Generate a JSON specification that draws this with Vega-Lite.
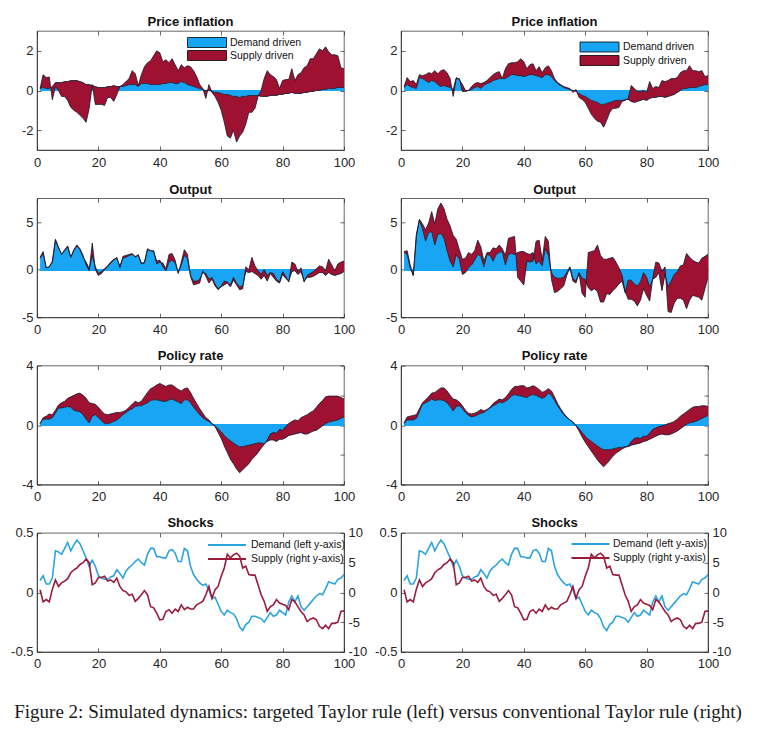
{
"$schema": "https://vega.github.io/schema/vega-lite/v6.json",
"padding": {"left": 10, "top": 15, "right": 5, "bottom": 5},
"background": "white",
"data": {"values": [
{"x":1,"piLd":0.1,"piLt":0.1,"piRd":0.15,"piRt":0.2,"yLd":1.2,"yLt":1.3,"yRd":1.8,"yRt":1.9,"iLd":0.1,"iLt":0.1,"iRd":0.1,"iRt":0.15,"sd":0.1,"ss":0.45},
{"x":2,"piLd":0.15,"piLt":0.8,"piRd":0.3,"piRt":0.65,"yLd":1.7,"yLt":1.9,"yRd":1.6,"yRt":2,"iLd":0.4,"iLt":0.5,"iRd":0.35,"iRt":0.55,"sd":0.14,"ss":-1.6},
{"x":3,"piLd":0.1,"piLt":0.65,"piRd":0.2,"piRt":0.45,"yLd":0.2,"yLt":0.2,"yRd":0.2,"yRt":0.5,"iLd":0.4,"iLt":0.6,"iRd":0.35,"iRt":0.6,"sd":0.07,"ss":-1.2},
{"x":4,"piLd":0.1,"piLt":0.68,"piRd":0.15,"piRt":0.5,"yLd":0.3,"yLt":0.3,"yRd":-0.6,"yRt":-0.6,"iLd":0.4,"iLt":0.75,"iRd":0.35,"iRt":0.65,"sd":0.07,"ss":-1.6},
{"x":5,"piLd":0.2,"piLt":-0.47,"piRd":0.1,"piRt":0.3,"yLd":0.8,"yLt":0.9,"yRd":3.5,"yRt":3.7,"iLd":0.5,"iLt":0.7,"iRd":0.45,"iRt":0.7,"sd":0.12,"ss":0.55},
{"x":6,"piLd":0.4,"piLt":0.2,"piRd":0.65,"piRt":0.8,"yLd":3.1,"yLt":3.2,"yRd":5.2,"yRt":5.3,"iLd":0.8,"iLt":1,"iRd":0.9,"iRt":1.1,"sd":0.35,"ss":2.1},
{"x":7,"piLd":0.4,"piLt":0,"piRd":0.6,"piRt":0.75,"yLd":2.3,"yLt":2.4,"yRd":4.3,"yRt":4.8,"iLd":1.15,"iLt":1.35,"iRd":1.4,"iRt":1.5,"sd":0.34,"ss":1},
{"x":8,"piLd":0.4,"piLt":-0.3,"piRd":0.5,"piRt":0.8,"yLd":1.6,"yLt":1.6,"yRd":3,"yRt":4.2,"iLd":1.15,"iLt":1.5,"iRd":1.5,"iRt":1.7,"sd":0.32,"ss":1.6},
{"x":9,"piLd":0.45,"piLt":-0.3,"piRd":0.4,"piRt":0.9,"yLd":2,"yLt":2.1,"yRd":3.9,"yRt":4.9,"iLd":1.2,"iLt":1.6,"iRd":1.6,"iRt":1.9,"sd":0.37,"ss":1.9},
{"x":10,"piLd":0.45,"piLt":-0.5,"piRd":0.5,"piRt":0.85,"yLd":2.4,"yLt":2.5,"yRd":4,"yRt":6.1,"iLd":1.25,"iLt":1.8,"iRd":1.75,"iRt":2.15,"sd":0.42,"ss":2.3},
{"x":11,"piLd":0.5,"piLt":-0.85,"piRd":0.45,"piRt":1,"yLd":1.3,"yLt":1.3,"yRd":2.6,"yRt":4.8,"iLd":1.2,"iLt":1.9,"iRd":1.65,"iRt":2.2,"sd":0.35,"ss":3.3},
{"x":12,"piLd":0.5,"piLt":-1,"piRd":0.3,"piRt":0.85,"yLd":2,"yLt":2.1,"yRd":3.7,"yRt":6.4,"iLd":1,"iLt":2,"iRd":1.7,"iRt":2.35,"sd":0.4,"ss":3.8},
{"x":13,"piLd":0.5,"piLt":-1.1,"piRd":0.2,"piRt":1,"yLd":2.5,"yLt":2.6,"yRd":3.8,"yRt":7,"iLd":0.95,"iLt":2.1,"iRd":1.7,"iRt":2.5,"sd":0.44,"ss":4.1},
{"x":14,"piLd":0.45,"piLt":-1.25,"piRd":0.25,"piRt":1.05,"yLd":2.1,"yLt":2.2,"yRd":3.3,"yRt":6.4,"iLd":0.9,"iLt":2.15,"iRd":1.65,"iRt":2.5,"sd":0.41,"ss":4.7},
{"x":15,"piLd":0.4,"piLt":-1.4,"piRd":0.2,"piRt":0.9,"yLd":1.3,"yLt":1.5,"yRd":2,"yRt":5.3,"iLd":0.7,"iLt":2,"iRd":1.5,"iRt":2.3,"sd":0.35,"ss":5},
{"x":16,"piLd":0.3,"piLt":-1.6,"piRd":0.15,"piRt":0.6,"yLd":0.8,"yLt":0.5,"yRd":0.9,"yRt":4.6,"iLd":0.4,"iLt":1.8,"iRd":1.25,"iRt":2,"sd":0.29,"ss":5.6},
{"x":17,"piLd":0.3,"piLt":-0.9,"piRd":0.05,"piRt":-0.3,"yLd":0.1,"yLt":-0.1,"yRd":0.3,"yRt":3.6,"iLd":0.15,"iLt":1.5,"iRd":0.95,"iRt":1.75,"sd":0.22,"ss":5},
{"x":18,"piLd":0.25,"piLt":0.3,"piRd":0.65,"piRt":0.6,"yLd":1.5,"yLt":2.8,"yRd":1.6,"yRt":3.2,"iLd":0.6,"iLt":1.45,"iRd":1.25,"iRt":1.7,"sd":0.27,"ss":1.3},
{"x":19,"piLd":0.2,"piLt":-0.7,"piRd":0.55,"piRt":0.6,"yLd":0.3,"yLt":0,"yRd":1.1,"yRt":2.1,"iLd":0.7,"iLt":1.4,"iRd":1.3,"iRt":1.55,"sd":0.22,"ss":1.6},
{"x":20,"piLd":0.15,"piLt":-0.7,"piRd":0.3,"piRt":-0.05,"yLd":-0.4,"yLt":-0.6,"yRd":-0.5,"yRt":1.1,"iLd":0.5,"iLt":1.2,"iRd":1.1,"iRt":1.3,"sd":0.14,"ss":2.5},
{"x":21,"piLd":0.15,"piLt":-0.7,"piRd":0,"piRt":-0.05,"yLd":-0.2,"yLt":-0.4,"yRd":-0.3,"yRt":1.2,"iLd":0.3,"iLt":0.95,"iRd":0.85,"iRt":1,"sd":0.12,"ss":2.5},
{"x":22,"piLd":0.15,"piLt":-0.75,"piRd":0,"piRt":0,"yLd":0.1,"yLt":0,"yRd":0.2,"yRt":1.8,"iLd":0.1,"iLt":0.75,"iRd":0.65,"iRt":0.8,"sd":0.11,"ss":2.7},
{"x":23,"piLd":0.2,"piLt":-0.35,"piRd":0.05,"piRt":0.2,"yLd":0.4,"yLt":0.3,"yRd":0.5,"yRt":1.6,"iLd":0.1,"iLt":0.7,"iRd":0.55,"iRt":0.75,"sd":0.11,"ss":1.9},
{"x":24,"piLd":0.2,"piLt":-0.35,"piRd":0.15,"piRt":0.35,"yLd":0.8,"yLt":0.7,"yRd":1,"yRt":2,"iLd":0.15,"iLt":0.75,"iRd":0.6,"iRt":0.8,"sd":0.13,"ss":2.1},
{"x":25,"piLd":0.25,"piLt":-0.55,"piRd":0.2,"piRt":0.4,"yLd":1.1,"yLt":1,"yRd":1.6,"yRt":3.1,"iLd":0.25,"iLt":0.8,"iRd":0.7,"iRt":0.9,"sd":0.14,"ss":1.7},
{"x":26,"piLd":0.2,"piLt":-0.2,"piRd":0.1,"piRt":0.35,"yLd":1.2,"yLt":1.3,"yRd":1.4,"yRt":2.4,"iLd":0.35,"iLt":0.85,"iRd":0.8,"iRt":1.05,"sd":0.19,"ss":2.4},
{"x":27,"piLd":0.2,"piLt":0.2,"piRd":0.25,"piRt":0.4,"yLd":0.4,"yLt":0.2,"yRd":0.3,"yRt":0.9,"iLd":0.5,"iLt":0.85,"iRd":0.85,"iRt":0.95,"sd":0.16,"ss":1},
{"x":28,"piLd":0.2,"piLt":0.3,"piRd":0.35,"piRt":0.5,"yLd":1.2,"yLt":1.4,"yRd":1.6,"yRt":1.8,"iLd":0.7,"iLt":0.9,"iRd":1,"iRt":1.05,"sd":0.12,"ss":0.3},
{"x":29,"piLd":0.25,"piLt":0.45,"piRd":0.4,"piRt":0.65,"yLd":1.3,"yLt":1.5,"yRd":1.5,"yRt":1.8,"iLd":0.85,"iLt":1,"iRd":1.15,"iRt":1.2,"sd":0.18,"ss":0.1},
{"x":30,"piLd":0.3,"piLt":0.6,"piRd":0.5,"piRt":0.8,"yLd":1.5,"yLt":1.6,"yRd":0.9,"yRt":2.3,"iLd":1,"iLt":1.2,"iRd":1.3,"iRt":1.45,"sd":0.21,"ss":-0.5},
{"x":31,"piLd":0.3,"piLt":1,"piRd":0.55,"piRt":0.9,"yLd":1.6,"yLt":1.7,"yRd":1.6,"yRt":2.2,"iLd":1.1,"iLt":1.4,"iRd":1.4,"iRt":1.6,"sd":0.23,"ss":-0.3},
{"x":32,"piLd":0.3,"piLt":0.85,"piRd":0.6,"piRt":0.95,"yLd":1.4,"yLt":1.3,"yRd":1.8,"yRt":2.6,"iLd":1.25,"iLt":1.6,"iRd":1.55,"iRt":1.75,"sd":0.26,"ss":-1.5},
{"x":33,"piLd":0.2,"piLt":0.25,"piRd":0.6,"piRt":0.6,"yLd":1.5,"yLt":1.6,"yRd":1.9,"yRt":2.2,"iLd":1.3,"iLt":1.5,"iRd":1.5,"iRt":1.7,"sd":0.28,"ss":-1},
{"x":34,"piLd":0.35,"piLt":0.8,"piRd":0.6,"piRt":1.1,"yLd":0.7,"yLt":0.6,"yRd":0.5,"yRt":1.5,"iLd":1.3,"iLt":1.6,"iRd":1.6,"iRt":1.85,"sd":0.25,"ss":-0.4},
{"x":35,"piLd":0.35,"piLt":1.2,"piRd":0.7,"piRt":1.35,"yLd":0.7,"yLt":0.8,"yRd":1.6,"yRt":3.3,"iLd":1.4,"iLt":1.9,"iRd":1.75,"iRt":2.1,"sd":0.23,"ss":0.3},
{"x":36,"piLd":0.35,"piLt":1.4,"piRd":0.8,"piRt":1.4,"yLd":2.1,"yLt":2.2,"yRd":1.7,"yRt":3.4,"iLd":1.5,"iLt":2.2,"iRd":1.95,"iRt":2.4,"sd":0.32,"ss":-0.4},
{"x":37,"piLd":0.3,"piLt":1.5,"piRd":0.8,"piRt":1.4,"yLd":2,"yLt":2,"yRd":1.6,"yRt":3.5,"iLd":1.65,"iLt":2.45,"iRd":2.05,"iRt":2.6,"sd":0.37,"ss":-2.4},
{"x":38,"piLd":0.3,"piLt":1.75,"piRd":0.75,"piRt":1.45,"yLd":1.9,"yLt":2,"yRd":1.8,"yRt":-0.8,"iLd":1.7,"iLt":2.55,"iRd":2,"iRt":2.6,"sd":0.37,"ss":-2.6},
{"x":39,"piLd":0.3,"piLt":2,"piRd":0.75,"piRt":1.6,"yLd":0.9,"yLt":0.6,"yRd":1.9,"yRt":-1.2,"iLd":1.7,"iLt":2.7,"iRd":1.95,"iRt":2.65,"sd":0.3,"ss":-3.5},
{"x":40,"piLd":0.3,"piLt":1.9,"piRd":0.7,"piRt":1.45,"yLd":1,"yLt":0.8,"yRd":1.9,"yRt":-1.6,"iLd":1.65,"iLt":2.8,"iRd":1.9,"iRt":2.65,"sd":0.3,"ss":-4.6},
{"x":41,"piLd":0.35,"piLt":1.45,"piRd":0.75,"piRt":1.1,"yLd":0.3,"yLt":0.7,"yRd":1.7,"yRt":0.9,"iLd":1.6,"iLt":2.7,"iRd":1.85,"iRt":2.5,"sd":0.29,"ss":-4.5},
{"x":42,"piLd":0.35,"piLt":1.55,"piRd":0.8,"piRt":1.3,"yLd":-0.1,"yLt":0.1,"yRd":1.6,"yRt":0.8,"iLd":1.6,"iLt":2.6,"iRd":2,"iRt":2.55,"sd":0.29,"ss":-3.2},
{"x":43,"piLd":0.4,"piLt":1.4,"piRd":0.8,"piRt":1.35,"yLd":0.8,"yLt":1.6,"yRd":1.8,"yRt":0.9,"iLd":1.7,"iLt":2.7,"iRd":2.05,"iRt":2.65,"sd":0.35,"ss":-2.9},
{"x":44,"piLd":0.4,"piLt":1.6,"piRd":0.75,"piRt":1,"yLd":1,"yLt":1.7,"yRd":0.6,"yRt":3,"iLd":1.75,"iLt":2.7,"iRd":2,"iRt":2.55,"sd":0.36,"ss":-3.5},
{"x":45,"piLd":0.35,"piLt":1.3,"piRd":0.7,"piRt":1.2,"yLd":0.7,"yLt":1,"yRd":0.9,"yRt":3.1,"iLd":1.65,"iLt":2.55,"iRd":1.9,"iRt":2.4,"sd":0.33,"ss":-2.8},
{"x":46,"piLd":0.35,"piLt":1,"piRd":0.65,"piRt":0.9,"yLd":-0.3,"yLt":-0.4,"yRd":0.4,"yRt":1,"iLd":1.55,"iLt":2.4,"iRd":1.8,"iRt":2.2,"sd":0.26,"ss":-3.2},
{"x":47,"piLd":0.45,"piLt":1.3,"piRd":0.8,"piRt":1.15,"yLd":0.5,"yLt":0.8,"yRd":2.2,"yRt":3.5,"iLd":1.45,"iLt":2.3,"iRd":1.9,"iRt":2.3,"sd":0.26,"ss":-2.1},
{"x":48,"piLd":0.4,"piLt":1.15,"piRd":0.8,"piRt":1.25,"yLd":1.5,"yLt":2.1,"yRd":1.5,"yRt":3,"iLd":1.7,"iLt":2.45,"iRd":2.15,"iRt":2.45,"sd":0.37,"ss":-2.9},
{"x":49,"piLd":0.3,"piLt":1.25,"piRd":0.7,"piRt":1,"yLd":1.2,"yLt":1.6,"yRd":-0.3,"yRt":-1,"iLd":1.7,"iLt":2.5,"iRd":2,"iRt":2.3,"sd":0.35,"ss":-2.5},
{"x":50,"piLd":0.25,"piLt":1.2,"piRd":0.5,"piRt":0.6,"yLd":-0.6,"yLt":-0.7,"yRd":-0.8,"yRt":-2.4,"iLd":1.5,"iLt":2.2,"iRd":1.65,"iRt":1.9,"sd":0.22,"ss":-2.8},
{"x":51,"piLd":0.2,"piLt":1,"piRd":0.35,"piRt":0.4,"yLd":-1.2,"yLt":-1.6,"yRd":-0.9,"yRt":-2.3,"iLd":1.2,"iLt":1.8,"iRd":1.3,"iRt":1.45,"sd":0.15,"ss":-2.8},
{"x":52,"piLd":0.15,"piLt":0.7,"piRd":0.25,"piRt":0.3,"yLd":-1.2,"yLt":-1.5,"yRd":-0.9,"yRt":-2,"iLd":0.95,"iLt":1.45,"iRd":1,"iRt":1.1,"sd":0.11,"ss":-2.1},
{"x":53,"piLd":0.1,"piLt":0.3,"piRd":0.15,"piRt":0.2,"yLd":-1,"yLt":-1.4,"yRd":-0.8,"yRt":-1.7,"iLd":0.7,"iLt":1.1,"iRd":0.7,"iRt":0.8,"sd":0.08,"ss":-1.8},
{"x":54,"piLd":0.05,"piLt":0.1,"piRd":0.1,"piRt":0.15,"yLd":-0.3,"yLt":-0.1,"yRd":-0.3,"yRt":-0.6,"iLd":0.5,"iLt":0.8,"iRd":0.5,"iRt":0.55,"sd":0.06,"ss":-1.5},
{"x":55,"piLd":0,"piLt":-0.4,"piRd":0.05,"piRt":0.1,"yLd":-0.4,"yLt":-0.7,"yRd":0.3,"yRt":0.2,"iLd":0.35,"iLt":0.5,"iRd":0.35,"iRt":0.35,"sd":0.07,"ss":-0.4},
{"x":56,"piLd":0,"piLt":0.3,"piRd":0,"piRt":-0.1,"yLd":-1,"yLt":-1.4,"yRd":-0.9,"yRt":-1.2,"iLd":0.25,"iLt":0.35,"iRd":0.2,"iRt":0.2,"sd":0.02,"ss":1},
{"x":57,"piLd":-0.05,"piLt":-0.1,"piRd":-0.05,"piRt":0.05,"yLd":-0.8,"yLt":-1,"yRd":-1.2,"yRt":-1.4,"iLd":0.1,"iLt":0.1,"iRd":0,"iRt":-0.05,"sd":-0.05,"ss":-1},
{"x":58,"piLd":-0.1,"piLt":-0.3,"piRd":-0.15,"piRt":-0.35,"yLd":-1.5,"yLt":-1.7,"yRd":-0.3,"yRt":-0.4,"iLd":-0.05,"iLt":-0.1,"iRd":-0.25,"iRt":-0.4,"sd":-0.04,"ss":0.45},
{"x":59,"piLd":-0.1,"piLt":-0.6,"piRd":-0.25,"piRt":-0.45,"yLd":-2,"yLt":-2.1,"yRd":-0.9,"yRt":-2.5,"iLd":-0.25,"iLt":-0.5,"iRd":-0.5,"iRt":-0.8,"sd":-0.1,"ss":1},
{"x":60,"piLd":-0.15,"piLt":-1,"piRd":-0.3,"piRt":-0.6,"yLd":-1.7,"yLt":-1.8,"yRd":-1,"yRt":-2.9,"iLd":-0.45,"iLt":-0.9,"iRd":-0.75,"iRt":-1.15,"sd":-0.16,"ss":2.7},
{"x":61,"piLd":-0.2,"piLt":-1.6,"piRd":-0.4,"piRt":-0.9,"yLd":-1.2,"yLt":-1.6,"yRd":-1.9,"yRt":1.8,"iLd":-0.7,"iLt":-1.4,"iRd":-0.95,"iRt":-1.45,"sd":-0.19,"ss":4.1},
{"x":62,"piLd":-0.2,"piLt":-2.3,"piRd":-0.5,"piRt":-1.2,"yLd":-1.3,"yLt":-1.4,"yRd":-2.2,"yRt":1.9,"iLd":-0.9,"iLt":-1.85,"iRd":-1.1,"iRt":-1.75,"sd":-0.15,"ss":6.4},
{"x":63,"piLd":-0.25,"piLt":-2.4,"piRd":-0.55,"piRt":-1.4,"yLd":-1.6,"yLt":-1.8,"yRd":-2,"yRt":2,"iLd":-1.05,"iLt":-2.3,"iRd":-1.25,"iRt":-2.05,"sd":-0.17,"ss":5.8},
{"x":64,"piLd":-0.3,"piLt":-2,"piRd":-0.6,"piRt":-1.55,"yLd":-0.8,"yLt":-1.1,"yRd":-2.3,"yRt":2.6,"iLd":-1.2,"iLt":-2.6,"iRd":-1.4,"iRt":-2.35,"sd":-0.18,"ss":6.3},
{"x":65,"piLd":-0.3,"piLt":-2.6,"piRd":-0.7,"piRt":-1.6,"yLd":-1.4,"yLt":-1.6,"yRd":-3.4,"yRt":1.5,"iLd":-1.35,"iLt":-2.95,"iRd":-1.55,"iRt":-2.6,"sd":-0.22,"ss":6.6},
{"x":66,"piLd":-0.35,"piLt":-2.3,"piRd":-0.7,"piRt":-1.85,"yLd":-1.8,"yLt":-2.1,"yRd":-3.4,"yRt":1.1,"iLd":-1.45,"iLt":-3.2,"iRd":-1.65,"iRt":-2.8,"sd":-0.29,"ss":6.1},
{"x":67,"piLd":-0.3,"piLt":-2.1,"piRd":-0.65,"piRt":-1.5,"yLd":-1.7,"yLt":-2,"yRd":-2.5,"yRt":1.1,"iLd":-1.45,"iLt":-3,"iRd":-1.65,"iRt":-2.6,"sd":-0.32,"ss":4.1},
{"x":68,"piLd":-0.3,"piLt":-1.7,"piRd":-0.6,"piRt":-1.1,"yLd":-0.2,"yLt":0.3,"yRd":-2.6,"yRt":1.2,"iLd":-1.4,"iLt":-2.8,"iRd":-1.65,"iRt":-2.35,"sd":-0.27,"ss":4.4},
{"x":69,"piLd":-0.25,"piLt":-1.1,"piRd":-0.55,"piRt":-0.9,"yLd":-0.3,"yLt":0,"yRd":-2.2,"yRt":1.3,"iLd":-1.35,"iLt":-2.6,"iRd":-1.6,"iRt":-2.1,"sd":-0.25,"ss":3},
{"x":70,"piLd":-0.25,"piLt":-1.1,"piRd":-0.5,"piRt":-0.9,"yLd":-0.2,"yLt":1.3,"yRd":-1.9,"yRt":0.8,"iLd":-1.3,"iLt":-2.3,"iRd":-1.55,"iRt":-1.9,"sd":-0.2,"ss":2.9},
{"x":71,"piLd":-0.25,"piLt":-0.9,"piRd":-0.5,"piRt":-0.85,"yLd":-0.4,"yLt":0.4,"yRd":-1.5,"yRt":0.2,"iLd":-1.25,"iLt":-2.1,"iRd":-1.5,"iRt":-1.75,"sd":-0.2,"ss":2.9},
{"x":72,"piLd":-0.25,"piLt":-0.3,"piRd":-0.5,"piRt":-0.55,"yLd":-0.6,"yLt":-0.1,"yRd":-1.2,"yRt":-0.6,"iLd":-1.2,"iLt":-1.85,"iRd":-1.5,"iRt":-1.6,"sd":-0.21,"ss":1.3},
{"x":73,"piLd":-0.3,"piLt":0,"piRd":-0.45,"piRt":-0.5,"yLd":-1,"yLt":-0.5,"yRd":-2.4,"yRt":-2.3,"iLd":-1.2,"iLt":-1.55,"iRd":-1.45,"iRt":-1.5,"sd":-0.22,"ss":-0.4},
{"x":74,"piLd":-0.3,"piLt":0.6,"piRd":-0.45,"piRt":-0.4,"yLd":-0.6,"yLt":0,"yRd":-1.1,"yRt":-3.1,"iLd":-1.25,"iLt":-1.3,"iRd":-1.45,"iRt":-1.4,"sd":-0.25,"ss":-1.5},
{"x":75,"piLd":-0.3,"piLt":1,"piRd":-0.55,"piRt":0.25,"yLd":-1.2,"yLt":-0.6,"yRd":-1.1,"yRt":-3.1,"iLd":-1.1,"iLt":-1,"iRd":-1.35,"iRt":-1.1,"sd":-0.21,"ss":-3.2},
{"x":76,"piLd":-0.25,"piLt":0.8,"piRd":-0.6,"piRt":0.1,"yLd":-0.4,"yLt":-0.3,"yRd":-1.5,"yRt":-3.3,"iLd":-1,"iLt":-0.6,"iRd":-1.3,"iRt":-0.9,"sd":-0.17,"ss":-2.4},
{"x":77,"piLd":-0.25,"piLt":0.7,"piRd":-0.55,"piRt":-0.05,"yLd":-0.8,"yLt":-0.4,"yRd":-1.7,"yRt":-3.8,"iLd":-1,"iLt":-0.5,"iRd":-1.25,"iRt":-0.85,"sd":-0.2,"ss":-2.1},
{"x":78,"piLd":-0.25,"piLt":0.55,"piRd":-0.5,"piRt":-0.05,"yLd":-1.2,"yLt":-1,"yRd":-1.3,"yRt":-3.2,"iLd":-1.1,"iLt":-0.55,"iRd":-1.2,"iRt":-0.9,"sd":-0.19,"ss":-1.2},
{"x":79,"piLd":-0.2,"piLt":0.1,"piRd":-0.45,"piRt":0,"yLd":-1.4,"yLt":-1.3,"yRd":-0.3,"yRt":-2,"iLd":-0.95,"iLt":-0.3,"iRd":-1.1,"iRt":-0.75,"sd":-0.15,"ss":-1.8},
{"x":80,"piLd":-0.2,"piLt":0.5,"piRd":-0.5,"piRt":-0.1,"yLd":-0.5,"yLt":-0.2,"yRd":-0.8,"yRt":-2.7,"iLd":-0.95,"iLt":-0.35,"iRd":-1.05,"iRt":-0.75,"sd":-0.17,"ss":-2},
{"x":81,"piLd":-0.15,"piLt":0.55,"piRd":-0.4,"piRt":0.45,"yLd":-0.9,"yLt":-0.7,"yRd":-1.8,"yRt":-3.3,"iLd":-0.85,"iLt":-0.1,"iRd":-0.95,"iRt":-0.55,"sd":-0.19,"ss":-2.2},
{"x":82,"piLd":-0.15,"piLt":0.55,"piRd":-0.35,"piRt":0.1,"yLd":-1.2,"yLt":-1.3,"yRd":-1,"yRt":-0.9,"iLd":-0.7,"iLt":0.1,"iRd":-0.85,"iRt":-0.3,"sd":-0.08,"ss":-2.9},
{"x":83,"piLd":-0.1,"piLt":1.1,"piRd":-0.35,"piRt":0.2,"yLd":-0.2,"yLt":0.8,"yRd":-0.8,"yRt":0.8,"iLd":-0.65,"iLt":0.25,"iRd":-0.75,"iRt":-0.2,"sd":-0.03,"ss":-1.2},
{"x":84,"piLd":-0.15,"piLt":0.5,"piRd":-0.3,"piRt":0.15,"yLd":-0.1,"yLt":0.6,"yRd":-0.3,"yRt":0.7,"iLd":-0.6,"iLt":0.35,"iRd":-0.65,"iRt":-0.1,"sd":-0.08,"ss":-1.6},
{"x":85,"piLd":-0.15,"piLt":0.8,"piRd":-0.3,"piRt":0.5,"yLd":-0.5,"yLt":-0.2,"yRd":-2.2,"yRt":-0.2,"iLd":-0.55,"iLt":0.3,"iRd":-0.6,"iRt":-0.05,"sd":-0.03,"ss":-2.4},
{"x":86,"piLd":-0.15,"piLt":0.9,"piRd":-0.35,"piRt":0.45,"yLd":-0.2,"yLt":0.2,"yRd":-0.5,"yRt":0.3,"iLd":-0.5,"iLt":0.5,"iRd":-0.65,"iRt":0,"sd":-0.12,"ss":-3.2},
{"x":87,"piLd":-0.1,"piLt":1.15,"piRd":-0.3,"piRt":0.5,"yLd":-1.2,"yLt":-1.3,"yRd":-1.8,"yRt":-4.4,"iLd":-0.6,"iLt":0.6,"iRd":-0.65,"iRt":0.1,"sd":-0.15,"ss":-3.8},
{"x":88,"piLd":-0.1,"piLt":1.25,"piRd":-0.25,"piRt":0.6,"yLd":-0.8,"yLt":-0.6,"yRd":-1.2,"yRt":-4.5,"iLd":-0.6,"iLt":0.7,"iRd":-0.6,"iRt":0.15,"sd":-0.12,"ss":-4.9},
{"x":89,"piLd":-0.05,"piLt":1.6,"piRd":-0.2,"piRt":0.6,"yLd":-0.8,"yLt":-0.4,"yRd":-0.5,"yRt":-3.5,"iLd":-0.5,"iLt":0.85,"iRd":-0.5,"iRt":0.25,"sd":-0.09,"ss":-4.5},
{"x":90,"piLd":-0.05,"piLt":1.6,"piRd":-0.1,"piRt":0.65,"yLd":-0.7,"yLt":-0.2,"yRd":-0.2,"yRt":-3,"iLd":-0.4,"iLt":0.95,"iRd":-0.4,"iRt":0.4,"sd":-0.06,"ss":-4.3},
{"x":91,"piLd":0,"piLt":1.85,"piRd":0,"piRt":0.9,"yLd":-0.5,"yLt":0.1,"yRd":0.4,"yRt":-3,"iLd":-0.35,"iLt":1.2,"iRd":-0.25,"iRt":0.6,"sd":-0.03,"ss":-4.6},
{"x":92,"piLd":0,"piLt":2.1,"piRd":0.1,"piRt":1,"yLd":-0.3,"yLt":0.4,"yRd":0.5,"yRt":-3.2,"iLd":-0.2,"iLt":1.45,"iRd":-0.1,"iRt":0.75,"sd":-0.01,"ss":-5.7},
{"x":93,"piLd":0.05,"piLt":2,"piRd":0.1,"piRt":1,"yLd":-0.3,"yLt":0.3,"yRd":1.7,"yRt":-4.1,"iLd":-0.05,"iLt":1.65,"iRd":0.05,"iRt":0.9,"sd":-0.02,"ss":-6.1},
{"x":94,"piLd":0.05,"piLt":2.2,"piRd":0.15,"piRt":1.25,"yLd":-0.6,"yLt":-0.1,"yRd":1.3,"yRt":-3.2,"iLd":0.1,"iLt":1.9,"iRd":0.15,"iRt":1.05,"sd":0.03,"ss":-5.5},
{"x":95,"piLd":0.1,"piLt":1.95,"piRd":0.15,"piRt":1,"yLd":-0.3,"yLt":1.1,"yRd":1,"yRt":-2.7,"iLd":0.2,"iLt":1.95,"iRd":0.2,"iRt":1.2,"sd":0.09,"ss":-6.1},
{"x":96,"piLd":0.1,"piLt":1.8,"piRd":0.15,"piRt":1,"yLd":-0.5,"yLt":0.5,"yRd":0.8,"yRt":-2.8,"iLd":0.25,"iLt":1.95,"iRd":0.25,"iRt":1.25,"sd":0.08,"ss":-5.2},
{"x":97,"piLd":0.1,"piLt":1.8,"piRd":0.2,"piRt":0.95,"yLd":-0.6,"yLt":-0.1,"yRd":0.7,"yRt":-2.9,"iLd":0.3,"iLt":1.95,"iRd":0.35,"iRt":1.25,"sd":0.07,"ss":-5.2},
{"x":98,"piLd":0.15,"piLt":1.75,"piRd":0.25,"piRt":1,"yLd":-0.5,"yLt":0.6,"yRd":1.2,"yRt":-3.2,"iLd":0.35,"iLt":1.95,"iRd":0.45,"iRt":1.3,"sd":0.11,"ss":-5},
{"x":99,"piLd":0.15,"piLt":1.15,"piRd":0.3,"piRt":0.7,"yLd":-0.4,"yLt":0.8,"yRd":1.4,"yRt":-2,"iLd":0.45,"iLt":1.85,"iRd":0.55,"iRt":1.3,"sd":0.12,"ss":-3.2},
{"x":100,"piLd":0.15,"piLt":1.1,"piRd":0.3,"piRt":0.75,"yLd":-0.2,"yLt":0.9,"yRd":1.6,"yRt":-0.8,"iLd":0.55,"iLt":1.75,"iRd":0.65,"iRt":1.25,"sd":0.15,"ss":-3.1}
]},
"title": {"text": "Figure 2: Simulated dynamics: targeted Taylor rule (left) versus conventional Taylor rule (right)", "orient": "bottom", "anchor": "start", "font": "Liberation Serif", "fontSize": 19, "fontWeight": "normal", "color": "#1a1a1a", "offset": 32, "dx": 4},
"columns": 2,
"spacing": {"row": 48.3, "column": 57},
"bounds": "flush",
"resolve": {"scale": {"color": "independent"}, "legend": {"color": "independent"}},
"concat": [
{"title": {"text": "Price inflation", "offset": 2}, "width": 307, "height": 119,
 "layer": [
  {"layer": [
   {"mark": {"type": "area", "opacity": 1, "clip": true},
    "encoding": {"x": {"field": "x", "type": "quantitative", "scale": {"domain": [0, 100], "nice": false}, "axis": {"values": [0, 20, 40, 60, 80, 100], "title": null}},
     "y": {"field": "piLd", "type": "quantitative", "stack": null, "scale": {"domain": [-3, 3], "nice": false}, "axis": {"values": [-2, 0, 2], "title": null}},
     "y2": {"datum": 0},
     "color": {"datum": "Demand driven", "scale": {"domain": ["Demand driven", "Supply driven"], "range": ["#17A5F4", "#9E1131"]},
      "legend": {"orient": "none", "legendX": 164.5, "legendY": 6, "title": null, "symbolType": "M-3.9,-1H3.9V1H-3.9Z", "symbolSize": 100, "labelOffset": 17.5, "rowPadding": -2, "padding": 0, "labelFontSize": 10.5, "symbolOpacity": 1, "encode": {"symbols": {"update": {"stroke": {"value": "#000"}, "strokeWidth": {"value": 0.8}}}}}}}},
   {"mark": {"type": "rule", "color": "#17A5F4", "strokeWidth": 1.2}, "encoding": {"x": {"datum": 1}, "x2": {"datum": 100}, "y": {"datum": 0}}},
   {"mark": {"type": "area", "opacity": 1, "clip": true},
    "encoding": {"x": {"field": "x", "type": "quantitative"}, "y": {"field": "piLt", "type": "quantitative", "stack": null}, "y2": {"field": "piLd"}, "color": {"datum": "Supply driven"}}},
   {"mark": {"type": "line", "color": "#151528", "strokeWidth": 0.8, "clip": true}, "encoding": {"x": {"field": "x", "type": "quantitative"}, "y": {"field": "piLd", "type": "quantitative"}}},
   {"mark": {"type": "line", "color": "#151528", "strokeWidth": 0.8, "clip": true}, "encoding": {"x": {"field": "x", "type": "quantitative"}, "y": {"field": "piLt", "type": "quantitative"}}}
  ]},
  {"mark": {"type": "point", "opacity": 0},
   "encoding": {"x": {"field": "x", "type": "quantitative", "scale": {"domain": [0, 100], "nice": false}, "axis": {"orient": "top", "labels": false, "domain": false, "values": [0, 20, 40, 60, 80, 100], "title": null}},
    "y": {"field": "piLd", "type": "quantitative", "scale": {"domain": [-3, 3], "nice": false}, "axis": {"orient": "right", "labels": false, "domain": false, "values": [-2, 0, 2], "title": null}}}}
 ],
 "resolve": {"scale": {"x": "independent", "y": "independent"}}},
{"title": {"text": "Price inflation", "offset": 2}, "width": 307, "height": 119,
 "layer": [
  {"layer": [
   {"mark": {"type": "area", "opacity": 1, "clip": true},
    "encoding": {"x": {"field": "x", "type": "quantitative", "scale": {"domain": [0, 100], "nice": false}, "axis": {"values": [0, 20, 40, 60, 80, 100], "title": null}},
     "y": {"field": "piRd", "type": "quantitative", "stack": null, "scale": {"domain": [-3, 3], "nice": false}, "axis": {"values": [-2, 0, 2], "title": null}},
     "y2": {"datum": 0},
     "color": {"datum": "Demand driven", "scale": {"domain": ["Demand driven", "Supply driven"], "range": ["#17A5F4", "#9E1131"]},
      "legend": {"orient": "none", "legendX": 193, "legendY": 10.5, "title": null, "symbolType": "M-3.9,-1H3.9V1H-3.9Z", "symbolSize": 100, "labelOffset": 18, "rowPadding": -1.5, "padding": 0, "labelFontSize": 10.5, "symbolOpacity": 1, "encode": {"symbols": {"update": {"stroke": {"value": "#000"}, "strokeWidth": {"value": 0.8}}}}}}}},
   {"mark": {"type": "rule", "color": "#17A5F4", "strokeWidth": 1.2}, "encoding": {"x": {"datum": 1}, "x2": {"datum": 100}, "y": {"datum": 0}}},
   {"mark": {"type": "area", "opacity": 1, "clip": true},
    "encoding": {"x": {"field": "x", "type": "quantitative"}, "y": {"field": "piRt", "type": "quantitative", "stack": null}, "y2": {"field": "piRd"}, "color": {"datum": "Supply driven"}}},
   {"mark": {"type": "line", "color": "#151528", "strokeWidth": 0.8, "clip": true}, "encoding": {"x": {"field": "x", "type": "quantitative"}, "y": {"field": "piRd", "type": "quantitative"}}},
   {"mark": {"type": "line", "color": "#151528", "strokeWidth": 0.8, "clip": true}, "encoding": {"x": {"field": "x", "type": "quantitative"}, "y": {"field": "piRt", "type": "quantitative"}}}
  ]},
  {"mark": {"type": "point", "opacity": 0},
   "encoding": {"x": {"field": "x", "type": "quantitative", "scale": {"domain": [0, 100], "nice": false}, "axis": {"orient": "top", "labels": false, "domain": false, "values": [0, 20, 40, 60, 80, 100], "title": null}},
    "y": {"field": "piRd", "type": "quantitative", "scale": {"domain": [-3, 3], "nice": false}, "axis": {"orient": "right", "labels": false, "domain": false, "values": [-2, 0, 2], "title": null}}}}
 ],
 "resolve": {"scale": {"x": "independent", "y": "independent"}}},
{"title": {"text": "Output", "offset": 1}, "width": 307, "height": 119,
 "layer": [
  {"layer": [
   {"mark": {"type": "area", "opacity": 1, "clip": true},
    "encoding": {"x": {"field": "x", "type": "quantitative", "scale": {"domain": [0, 100], "nice": false}, "axis": {"values": [0, 20, 40, 60, 80, 100], "title": null}},
     "y": {"field": "yLd", "type": "quantitative", "stack": null, "scale": {"domain": [-5, 7.5], "nice": false}, "axis": {"values": [-5, 0, 5], "title": null}},
     "y2": {"datum": 0},
     "color": {"datum": "Demand driven", "scale": {"domain": ["Demand driven", "Supply driven"], "range": ["#17A5F4", "#9E1131"]}, "legend": null}}},
   {"mark": {"type": "rule", "color": "#17A5F4", "strokeWidth": 1.2}, "encoding": {"x": {"datum": 1}, "x2": {"datum": 100}, "y": {"datum": 0}}},
   {"mark": {"type": "area", "opacity": 1, "clip": true},
    "encoding": {"x": {"field": "x", "type": "quantitative"}, "y": {"field": "yLt", "type": "quantitative", "stack": null}, "y2": {"field": "yLd"}, "color": {"datum": "Supply driven"}}},
   {"mark": {"type": "line", "color": "#151528", "strokeWidth": 0.8, "clip": true}, "encoding": {"x": {"field": "x", "type": "quantitative"}, "y": {"field": "yLd", "type": "quantitative"}}},
   {"mark": {"type": "line", "color": "#151528", "strokeWidth": 0.8, "clip": true}, "encoding": {"x": {"field": "x", "type": "quantitative"}, "y": {"field": "yLt", "type": "quantitative"}}}
  ]},
  {"mark": {"type": "point", "opacity": 0},
   "encoding": {"x": {"field": "x", "type": "quantitative", "scale": {"domain": [0, 100], "nice": false}, "axis": {"orient": "top", "labels": false, "domain": false, "values": [0, 20, 40, 60, 80, 100], "title": null}},
    "y": {"field": "yLd", "type": "quantitative", "scale": {"domain": [-5, 7.5], "nice": false}, "axis": {"orient": "right", "labels": false, "domain": false, "values": [-5, 0, 5], "title": null}}}}
 ],
 "resolve": {"scale": {"x": "independent", "y": "independent"}}},
{"title": {"text": "Output", "offset": 1}, "width": 307, "height": 119,
 "layer": [
  {"layer": [
   {"mark": {"type": "area", "opacity": 1, "clip": true},
    "encoding": {"x": {"field": "x", "type": "quantitative", "scale": {"domain": [0, 100], "nice": false}, "axis": {"values": [0, 20, 40, 60, 80, 100], "title": null}},
     "y": {"field": "yRd", "type": "quantitative", "stack": null, "scale": {"domain": [-5, 7.5], "nice": false}, "axis": {"values": [-5, 0, 5], "title": null}},
     "y2": {"datum": 0},
     "color": {"datum": "Demand driven", "scale": {"domain": ["Demand driven", "Supply driven"], "range": ["#17A5F4", "#9E1131"]}, "legend": null}}},
   {"mark": {"type": "rule", "color": "#17A5F4", "strokeWidth": 1.2}, "encoding": {"x": {"datum": 1}, "x2": {"datum": 100}, "y": {"datum": 0}}},
   {"mark": {"type": "area", "opacity": 1, "clip": true},
    "encoding": {"x": {"field": "x", "type": "quantitative"}, "y": {"field": "yRt", "type": "quantitative", "stack": null}, "y2": {"field": "yRd"}, "color": {"datum": "Supply driven"}}},
   {"mark": {"type": "line", "color": "#151528", "strokeWidth": 0.8, "clip": true}, "encoding": {"x": {"field": "x", "type": "quantitative"}, "y": {"field": "yRd", "type": "quantitative"}}},
   {"mark": {"type": "line", "color": "#151528", "strokeWidth": 0.8, "clip": true}, "encoding": {"x": {"field": "x", "type": "quantitative"}, "y": {"field": "yRt", "type": "quantitative"}}}
  ]},
  {"mark": {"type": "point", "opacity": 0},
   "encoding": {"x": {"field": "x", "type": "quantitative", "scale": {"domain": [0, 100], "nice": false}, "axis": {"orient": "top", "labels": false, "domain": false, "values": [0, 20, 40, 60, 80, 100], "title": null}},
    "y": {"field": "yRd", "type": "quantitative", "scale": {"domain": [-5, 7.5], "nice": false}, "axis": {"orient": "right", "labels": false, "domain": false, "values": [-5, 0, 5], "title": null}}}}
 ],
 "resolve": {"scale": {"x": "independent", "y": "independent"}}},
{"title": {"text": "Policy rate", "offset": -3}, "width": 307, "height": 119,
 "layer": [
  {"layer": [
   {"mark": {"type": "area", "opacity": 1, "clip": true},
    "encoding": {"x": {"field": "x", "type": "quantitative", "scale": {"domain": [0, 100], "nice": false}, "axis": {"values": [0, 20, 40, 60, 80, 100], "title": null}},
     "y": {"field": "iLd", "type": "quantitative", "stack": null, "scale": {"domain": [-4, 4], "nice": false}, "axis": {"values": [-4, -2, 0, 2, 4], "title": null}},
     "y2": {"datum": 0},
     "color": {"datum": "Demand driven", "scale": {"domain": ["Demand driven", "Supply driven"], "range": ["#17A5F4", "#9E1131"]}, "legend": null}}},
   {"mark": {"type": "rule", "color": "#17A5F4", "strokeWidth": 1.2}, "encoding": {"x": {"datum": 1}, "x2": {"datum": 100}, "y": {"datum": 0}}},
   {"mark": {"type": "area", "opacity": 1, "clip": true},
    "encoding": {"x": {"field": "x", "type": "quantitative"}, "y": {"field": "iLt", "type": "quantitative", "stack": null}, "y2": {"field": "iLd"}, "color": {"datum": "Supply driven"}}},
   {"mark": {"type": "line", "color": "#151528", "strokeWidth": 0.8, "clip": true}, "encoding": {"x": {"field": "x", "type": "quantitative"}, "y": {"field": "iLd", "type": "quantitative"}}},
   {"mark": {"type": "line", "color": "#151528", "strokeWidth": 0.8, "clip": true}, "encoding": {"x": {"field": "x", "type": "quantitative"}, "y": {"field": "iLt", "type": "quantitative"}}}
  ]},
  {"mark": {"type": "point", "opacity": 0},
   "encoding": {"x": {"field": "x", "type": "quantitative", "scale": {"domain": [0, 100], "nice": false}, "axis": {"orient": "top", "labels": false, "domain": false, "values": [0, 20, 40, 60, 80, 100], "title": null}},
    "y": {"field": "iLd", "type": "quantitative", "scale": {"domain": [-4, 4], "nice": false}, "axis": {"orient": "right", "labels": false, "domain": false, "values": [-4, -2, 0, 2, 4], "title": null}}}}
 ],
 "resolve": {"scale": {"x": "independent", "y": "independent"}}},
{"title": {"text": "Policy rate", "offset": -3}, "width": 307, "height": 119,
 "layer": [
  {"layer": [
   {"mark": {"type": "area", "opacity": 1, "clip": true},
    "encoding": {"x": {"field": "x", "type": "quantitative", "scale": {"domain": [0, 100], "nice": false}, "axis": {"values": [0, 20, 40, 60, 80, 100], "title": null}},
     "y": {"field": "iRd", "type": "quantitative", "stack": null, "scale": {"domain": [-4, 4], "nice": false}, "axis": {"values": [-4, -2, 0, 2, 4], "title": null}},
     "y2": {"datum": 0},
     "color": {"datum": "Demand driven", "scale": {"domain": ["Demand driven", "Supply driven"], "range": ["#17A5F4", "#9E1131"]}, "legend": null}}},
   {"mark": {"type": "rule", "color": "#17A5F4", "strokeWidth": 1.2}, "encoding": {"x": {"datum": 1}, "x2": {"datum": 100}, "y": {"datum": 0}}},
   {"mark": {"type": "area", "opacity": 1, "clip": true},
    "encoding": {"x": {"field": "x", "type": "quantitative"}, "y": {"field": "iRt", "type": "quantitative", "stack": null}, "y2": {"field": "iRd"}, "color": {"datum": "Supply driven"}}},
   {"mark": {"type": "line", "color": "#151528", "strokeWidth": 0.8, "clip": true}, "encoding": {"x": {"field": "x", "type": "quantitative"}, "y": {"field": "iRd", "type": "quantitative"}}},
   {"mark": {"type": "line", "color": "#151528", "strokeWidth": 0.8, "clip": true}, "encoding": {"x": {"field": "x", "type": "quantitative"}, "y": {"field": "iRt", "type": "quantitative"}}}
  ]},
  {"mark": {"type": "point", "opacity": 0},
   "encoding": {"x": {"field": "x", "type": "quantitative", "scale": {"domain": [0, 100], "nice": false}, "axis": {"orient": "top", "labels": false, "domain": false, "values": [0, 20, 40, 60, 80, 100], "title": null}},
    "y": {"field": "iRd", "type": "quantitative", "scale": {"domain": [-4, 4], "nice": false}, "axis": {"orient": "right", "labels": false, "domain": false, "values": [-4, -2, 0, 2, 4], "title": null}}}}
 ],
 "resolve": {"scale": {"x": "independent", "y": "independent"}}},
{"title": {"text": "Shocks", "offset": -3}, "width": 307, "height": 119,
 "layer": [
  {"layer": [
   {"mark": {"type": "line", "strokeWidth": 1.6},
    "encoding": {"x": {"field": "x", "type": "quantitative", "scale": {"domain": [0, 100], "nice": false}, "axis": {"values": [0, 20, 40, 60, 80, 100], "title": null}},
     "y": {"field": "sd", "type": "quantitative", "scale": {"domain": [-0.5, 0.5], "nice": false}, "axis": {"values": [-0.5, 0, 0.5], "title": null}},
     "color": {"datum": "Demand (left y-axis)", "scale": {"domain": ["Demand (left y-axis)", "Supply (right y-axis)"], "range": ["#2BA4DD", "#9A1B3B"]},
      "legend": {"orient": "none", "legendX": 184, "legendY": 6, "title": null, "symbolType": "M-3.8,0H3.8", "symbolSize": 100, "symbolStrokeWidth": 2, "labelOffset": 18, "rowPadding": 2, "padding": 0, "labelFontSize": 10.5}}}},
   {"mark": {"type": "line", "strokeWidth": 1.6},
    "encoding": {"x": {"field": "x", "type": "quantitative"},
     "y": {"field": "ss", "type": "quantitative", "scale": {"domain": [-10, 10], "nice": false}, "axis": {"orient": "right", "values": [-10, -5, 0, 5, 10], "title": null}},
     "color": {"datum": "Supply (right y-axis)"}}}
  ],
  "resolve": {"scale": {"y": "independent"}}},
  {"mark": {"type": "point", "opacity": 0},
   "encoding": {"x": {"field": "x", "type": "quantitative", "scale": {"domain": [0, 100], "nice": false}, "axis": {"orient": "top", "labels": false, "domain": false, "values": [0, 20, 40, 60, 80, 100], "title": null}}}}
 ],
 "resolve": {"scale": {"x": "independent", "y": "independent"}}},
{"title": {"text": "Shocks", "offset": -3}, "width": 307, "height": 119,
 "layer": [
  {"layer": [
   {"mark": {"type": "line", "strokeWidth": 1.6},
    "encoding": {"x": {"field": "x", "type": "quantitative", "scale": {"domain": [0, 100], "nice": false}, "axis": {"values": [0, 20, 40, 60, 80, 100], "title": null}},
     "y": {"field": "sd", "type": "quantitative", "scale": {"domain": [-0.5, 0.5], "nice": false}, "axis": {"values": [-0.5, 0, 0.5], "title": null}},
     "color": {"datum": "Demand (left y-axis)", "scale": {"domain": ["Demand (left y-axis)", "Supply (right y-axis)"], "range": ["#2BA4DD", "#9A1B3B"]},
      "legend": {"orient": "none", "legendX": 183.5, "legendY": 5, "title": null, "symbolType": "M-3.8,0H3.8", "symbolSize": 100, "symbolStrokeWidth": 2, "labelOffset": 16.5, "rowPadding": 2, "padding": 0, "labelFontSize": 10.5}}}},
   {"mark": {"type": "line", "strokeWidth": 1.6},
    "encoding": {"x": {"field": "x", "type": "quantitative"},
     "y": {"field": "ss", "type": "quantitative", "scale": {"domain": [-10, 10], "nice": false}, "axis": {"orient": "right", "values": [-10, -5, 0, 5, 10], "title": null}},
     "color": {"datum": "Supply (right y-axis)"}}}
  ],
  "resolve": {"scale": {"y": "independent"}}},
  {"mark": {"type": "point", "opacity": 0},
   "encoding": {"x": {"field": "x", "type": "quantitative", "scale": {"domain": [0, 100], "nice": false}, "axis": {"orient": "top", "labels": false, "domain": false, "values": [0, 20, 40, 60, 80, 100], "title": null}}}}
 ],
 "resolve": {"scale": {"x": "independent", "y": "independent"}}}
],
"config": {
 "font": "Liberation Sans",
 "view": {"stroke": "#262626", "strokeWidth": 0.7},
 "axis": {"grid": false, "domainColor": "#262626", "domainWidth": 0.7, "tickColor": "#262626", "tickWidth": 0.7, "tickSize": -4, "labelColor": "#262626", "labelFont": "Liberation Sans", "labelFontSize": 13, "labelFlush": false, "labelOverlap": false, "labelExpr": "'' + datum.value"},
 "axisX": {"labelPadding": 10},
 "axisY": {"labelPadding": 8},
 "title": {"font": "Liberation Sans", "fontSize": 13, "fontWeight": "bold", "color": "#111111", "offset": 5},
 "legend": {"labelFont": "Liberation Sans", "labelFontSize": 10.5, "labelColor": "#111111"}
}
}
